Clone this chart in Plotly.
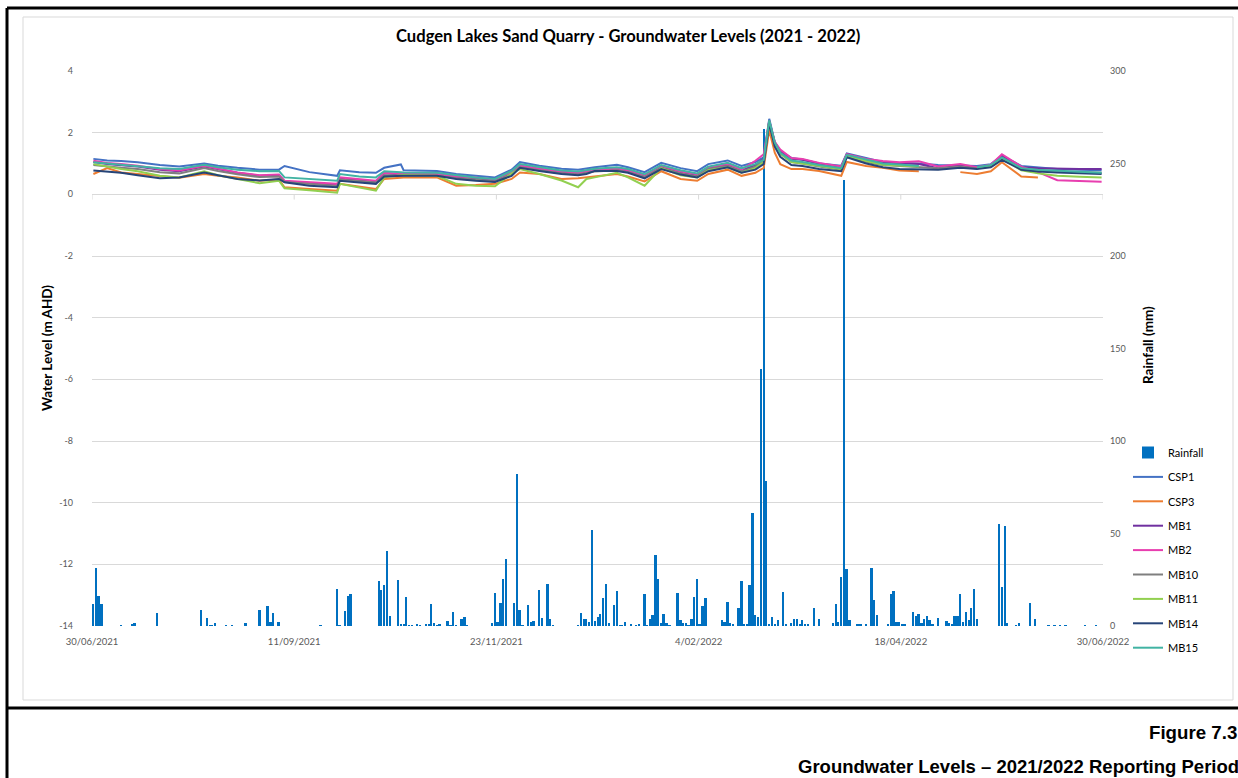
import pandas as pd
import plotly.graph_objects as go

W, H = 1238, 778
BASE = pd.Timestamp("2021-06-30")

# ---------------- data ----------------
tick_dates = ["2021-06-30", "2021-09-11", "2021-11-23", "2022-02-04", "2022-04-18", "2022-06-30"]
tick_labels = ["30/06/2021", "11/09/2021", "23/11/2021", "4/02/2022", "18/04/2022", "30/06/2022"]
level_ticks = [-14, -12, -10, -8, -6, -4, -2, 0, 2, 4]
level_labels = ["-14", "-12", "-10", "-8", "-6", "-4", "-2", "0", "2", "4"]

rain_day = [0, 1, 2, 3, 10, 14, 15, 23, 39, 41, 42, 43, 44, 48, 50, 55, 60, 63, 64, 65, 67,
            82, 88, 89, 91, 92, 93, 103, 104, 105, 106, 107, 110, 111, 112, 113, 114, 115, 117, 118,
            120, 121, 122, 123, 124, 125, 128, 129, 130, 131, 133, 134, 135, 144, 145, 146, 147, 148,
            149, 152, 153, 154, 155, 157, 158, 159, 161, 162, 164, 165, 166, 175, 176, 177, 178, 179,
            180, 181, 182, 183, 184, 185, 186, 188, 189, 190, 191, 192, 194, 196, 197, 199, 200, 201,
            202, 203, 204, 205, 206, 207, 208, 211, 212, 213, 214, 215, 216, 217, 218, 219, 220, 221,
            227, 228, 229, 230, 231, 233, 234, 235, 236, 237, 238, 239, 240, 241, 242, 243, 244, 245,
            246, 247, 249, 250, 252, 253, 254, 255, 256, 257, 258, 260, 262, 267, 268, 269, 270, 271,
            272, 273, 276, 277, 279, 281, 282, 283, 287, 288, 289, 290, 291, 292, 293, 296, 297, 298,
            299, 300, 301, 302, 303, 305, 308, 309, 310, 311, 312, 313, 314, 315, 316, 317, 318, 319,
            327, 328, 329, 330, 333, 334, 338, 340, 345, 347, 349, 351, 358, 362]
rain_mm = [11.9, 31.2, 16.2, 12.1, 0.5, 1.0, 1.6, 7.2, 8.6, 4.1, 0.5, 0.5, 1.6, 0.5, 0.5, 1.4, 8.6, 10.6, 2.2, 7.0, 2.3,
           0.5, 20.0, 0.5, 8.3, 16.4, 17.3, 24.3, 19.3, 22.2, 40.7, 5.2, 24.7, 1.0, 1.0, 15.7, 0.5, 0.5, 1.2, 0.5,
           1.0, 1.0, 11.9, 1.6, 0.5, 1.2, 2.9, 0.5, 7.4, 0.5, 4.0, 4.7, 0.5, 1.4, 17.7, 2.2, 12.6, 25.2,
           36.0, 12.4, 82.0, 8.6, 0.5, 11.5, 2.0, 2.9, 19.3, 4.3, 22.7, 3.8, 0.5, 0.5, 7.2, 4.0, 4.0, 2.2,
           52.0, 2.9, 5.0, 6.3, 15.0, 22.7, 1.4, 11.5, 18.7, 0.5, 0.5, 2.2, 1.2, 0.5, 1.0, 17.1, 0.5, 3.6,
           5.8, 38.4, 25.6, 1.6, 6.3, 1.6, 0.5, 17.8, 3.2, 1.6, 1.4, 0.5, 3.6, 15.7, 25.4, 1.0, 10.7, 14.9,
           3.1, 2.4, 13.2, 1.5, 0.7, 9.9, 24.2, 0.7, 0.7, 22.0, 61.0, 6.1, 5.1, 139.0, 268.8, 78.6, 0.7, 5.1,
           0.7, 3.1, 18.2, 0.7, 1.8, 3.7, 3.7, 1.1, 3.1, 0.7, 0.7, 9.9, 3.7, 1.5, 11.9, 2.4, 26.5, 241.0,
           31.0, 3.1, 0.7, 0.7, 0.7, 31.6, 14.3, 5.9, 0.7, 17.1, 19.1, 2.4, 2.0, 1.1, 0.7, 7.8, 5.2, 6.7,
           1.4, 3.8, 5.2, 3.1, 1.1, 4.2, 2.9, 1.4, 1.1, 5.6, 5.2, 17.1, 2.2, 7.6, 3.1, 9.6, 19.9, 3.6,
           54.9, 21.1, 54.2, 1.4, 0.5, 1.4, 12.5, 3.8, 0.5, 0.5, 0.5, 0.5, 0.5, 0.5]

gw_day = [0, 5, 10, 16, 24, 31, 40, 45, 52, 60, 67, 69, 78, 88, 89, 96, 102, 105, 111, 112,
          124, 131, 138, 145, 151, 154, 161, 169, 175, 178, 181, 189, 193, 199, 205, 212, 218, 222,
          229, 234, 239, 242, 244, 246, 248, 252, 256, 262, 270, 272, 279, 285, 291, 298, 305, 313,
          319, 324, 328, 335, 341, 348, 356, 364]

csp1 = [1.15, 1.10, 1.08, 1.04, 0.95, 0.90, 1.00, 0.93, 0.86, 0.80, 0.80, 0.92, 0.72, 0.60, 0.78, 0.72, 0.70, 0.86, 0.97, 0.78,
        0.76, 0.66, 0.60, 0.55, 0.80, 1.05, 0.93, 0.83, 0.80, 0.85, 0.88, 0.96, 0.88, 0.72, 1.02, 0.85, 0.75, 0.98,
        1.10, 0.92, 1.05, 1.20, 2.45, 1.70, 1.40, 1.18, 1.13, 1.00, 0.93, 1.33, 1.17, 1.05, 1.02, 1.00, 0.95, 0.92,
        0.92, 0.98, 1.25, 0.92, 0.88, 0.82, 0.80, 0.78]
csp3 = [0.66, 0.85, 0.71, 0.66, 0.58, 0.54, 0.66, 0.60, 0.55, 0.44, 0.48, 0.23, 0.17, 0.12, 0.34, 0.25, 0.17, 0.50, 0.55, 0.55,
        0.55, 0.28, 0.30, 0.34, 0.50, 0.71, 0.66, 0.50, 0.52, 0.55, 0.60, 0.66, 0.58, 0.42, 0.75, 0.50, 0.44, 0.66,
        0.80, 0.60, 0.70, 0.86, 2.09, 1.35, 0.98, 0.82, 0.82, 0.76, 0.60, 1.05, 0.92, 0.86, 0.77, 0.75, None, 0.72,
        0.66, 0.75, 1.04, 0.58, 0.55, None, None, None]
mb1 = [1.05, 0.98, 0.94, 0.90, 0.80, 0.75, 0.90, 0.82, 0.70, 0.60, 0.62, 0.42, 0.37, 0.30, 0.52, 0.45, 0.42, 0.68, 0.64, 0.64,
       0.64, 0.56, 0.52, 0.45, 0.70, 0.92, 0.82, 0.72, 0.68, 0.72, 0.78, 0.82, 0.76, 0.60, 0.90, 0.72, 0.62, 0.86,
       0.96, 0.78, 0.95, 1.15, 2.38, 1.68, 1.40, 1.15, 1.12, 1.00, 0.88, 1.30, 1.12, 1.03, 1.00, 0.98, 0.85, 0.93,
       0.86, 0.94, 1.25, 0.88, 0.85, 0.83, 0.82, 0.82]
mb2 = [1.09, 1.02, 0.98, 0.93, 0.82, 0.77, 0.93, 0.84, 0.71, 0.62, 0.64, 0.44, 0.39, 0.34, 0.55, 0.48, 0.44, 0.70, 0.66, 0.66,
       0.66, 0.58, 0.55, 0.48, 0.72, 0.93, 0.83, 0.74, 0.70, 0.74, 0.80, 0.84, 0.78, 0.62, 0.92, 0.74, 0.65, 0.88,
       0.98, 0.80, 1.09, 1.30, 2.38, 1.70, 1.45, 1.18, 1.15, 1.02, 0.90, 1.30, 1.15, 1.08, 1.04, 1.07, 0.90, 0.98,
       0.88, 0.96, 1.30, 0.90, 0.72, 0.46, 0.44, 0.41]
mb10 = [0.95, 0.90, 0.86, 0.82, 0.72, 0.68, 0.85, 0.76, 0.65, 0.56, 0.58, 0.40, 0.34, 0.27, 0.48, 0.42, 0.38, 0.62, 0.60, 0.60,
        0.60, 0.52, 0.48, 0.42, 0.66, 0.88, 0.78, 0.68, 0.64, 0.68, 0.74, 0.78, 0.72, 0.56, 0.86, 0.68, 0.58, 0.82,
        0.92, 0.74, 0.90, 1.08, 2.35, 1.62, 1.32, 1.05, 1.00, 0.90, 0.80, 1.24, 1.05, 0.95, 0.92, 0.90, 0.85, 0.90,
        0.84, 0.92, 1.18, 0.84, 0.78, 0.74, 0.72, 0.70]
mb11 = [0.98, 0.90, 0.82, 0.75, 0.60, 0.55, 0.75, 0.62, 0.50, 0.36, 0.44, 0.20, 0.13, 0.05, 0.34, 0.22, 0.12, 0.55, 0.63, 0.63,
        0.60, 0.34, 0.28, 0.26, 0.68, 0.82, 0.66, 0.45, 0.23, 0.50, 0.55, 0.70, 0.55, 0.28, 0.85, 0.62, 0.55, 0.78,
        0.88, 0.70, 0.85, 1.05, 2.35, 1.62, 1.32, 1.05, 1.00, 0.92, 0.82, 1.25, 1.08, 0.96, 0.93, 0.90, None, None,
        0.86, 0.92, 1.15, 0.78, 0.68, 0.60, 0.57, 0.55]
mb14 = [0.77, 0.74, 0.70, 0.62, 0.52, 0.55, 0.71, 0.62, 0.50, 0.45, 0.50, 0.39, 0.28, 0.23, 0.44, 0.38, 0.34, 0.58, 0.60, 0.60,
        0.60, 0.50, 0.44, 0.40, 0.60, 0.86, 0.76, 0.66, 0.62, 0.66, 0.76, 0.76, 0.70, 0.52, 0.82, 0.64, 0.55, 0.75,
        0.88, 0.70, 0.80, 0.98, 2.30, 1.55, 1.22, 0.95, 0.92, 0.82, 0.75, 1.20, 1.00, 0.88, 0.82, 0.82, 0.80, 0.86,
        0.82, 0.88, 1.12, 0.80, 0.74, 0.71, 0.68, 0.66]
mb15 = [1.04, 1.00, 0.95, 0.92, 0.85, 0.82, 0.96, 0.88, 0.80, 0.75, 0.76, 0.55, 0.50, 0.44, 0.66, 0.58, 0.55, 0.75, 0.72, 0.71,
        0.70, 0.62, 0.55, 0.50, 0.76, 0.98, 0.88, 0.77, 0.74, 0.78, 0.83, 0.88, 0.82, 0.65, 0.95, 0.78, 0.68, 0.90,
        1.02, 0.85, 0.98, 1.12, 2.40, 1.68, 1.35, 1.10, 1.05, 0.95, 0.85, 1.28, 1.12, 1.00, 0.97, 0.92, None, None,
        0.88, 0.95, 1.20, 0.85, 0.80, 0.76, 0.73, 0.70]

series_names = ["CSP1", "CSP3", "MB1", "MB2", "MB10", "MB11", "MB14", "MB15"]
series_vals = [csp1, csp3, mb1, mb2, mb10, mb11, mb14, mb15]
series_colors = ["#4472C4", "#ED7D31", "#7030A0", "#E83EAF", "#7F7F7F", "#92D050", "#264478", "#41B3A3"]

# ---------------- helpers (layout positions in pixels) ----------------
def px(x):
    return x / W


def py(y):
    return 1 - y / H


DAY_MS = 86400000
rain_dates = [BASE + pd.Timedelta(days=d) for d in rain_day]
gw_dates = [BASE + pd.Timedelta(days=d) for d in gw_day]

FONT = "Lato"
GRID = "#D9D9D9"
TICKC = "#595959"

fig = go.Figure()
fig.add_trace(go.Bar(
    x=rain_dates, y=rain_mm, name="Rainfall", yaxis="y",
    xperiod=DAY_MS, xperiodalignment="middle", width=0.72 * DAY_MS,
    marker=dict(color="#0070C0", line=dict(width=0)),
    legendgroup="rain",
))
for name, vals, col in zip(series_names, series_vals, series_colors):
    fig.add_trace(go.Scatter(
        x=gw_dates, y=vals, name=name, yaxis="y2", mode="lines",
        xperiod=DAY_MS, xperiodalignment="middle",
        line=dict(color=col, width=2), connectgaps=False,
        legendgroup=name,
    ))

shapes = []
# chart area border
shapes.append(dict(type="rect", xref="paper", yref="paper", x0=px(23), x1=px(1233), y0=py(17), y1=py(700),
                   line=dict(color=GRID, width=1), layer="below"))
# page frame lines
for (x0, y0, x1, y1) in [(7, 8, 1245, 8), (7, 8, 7, 790), (7, 708, 1245, 708)]:
    shapes.append(dict(type="line", xref="paper", yref="paper", x0=px(x0), y0=py(y0), x1=px(x1), y1=py(y1),
                       line=dict(color="black", width=3)))
# tick marks on the horizontal axis at zero
for td in tick_dates:
    shapes.append(dict(type="line", xref="x", yref="y2", x0=td, x1=td, y0=0, y1=-0.17,
                       line=dict(color=GRID, width=1), layer="below"))

annotations = [
    dict(text="<b>Cudgen Lakes Sand Quarry - Groundwater Levels (2021 - 2022)</b>", xref="paper", yref="paper",
         x=px(628), y=py(36), xanchor="center", yanchor="middle", showarrow=False,
         font=dict(family=FONT, size=16.6, color="black")),
    dict(text="<b>Water Level (m AHD)</b>", xref="paper", yref="paper", x=px(47), y=py(348),
         xanchor="center", yanchor="middle", textangle=-90, showarrow=False,
         font=dict(family=FONT, size=13.5, color="black")),
    dict(text="<b>Rainfall (mm)</b>", xref="paper", yref="paper", x=px(1148), y=py(345),
         xanchor="center", yanchor="middle", textangle=-90, showarrow=False,
         font=dict(family=FONT, size=13.5, color="black")),
    dict(text="<b>Figure 7.3</b>", xref="paper", yref="paper", x=px(1239), y=py(732),
         xanchor="right", yanchor="middle", showarrow=False,
         font=dict(family="Liberation Sans", size=18.7, color="black")),
    dict(text="<b>Groundwater Levels \u2013 2021/2022 Reporting Period</b>", xref="paper", yref="paper",
         x=px(1241), y=py(766), xanchor="right", yanchor="middle", showarrow=False,
         font=dict(family="Liberation Sans", size=18.5, color="black")),
]

fig.update_layout(
    width=W, height=H,
    margin=dict(l=0, r=0, t=0, b=0, autoexpand=False),
    paper_bgcolor="white", plot_bgcolor="white",
    font=dict(family=FONT, size=9, color=TICKC),
    bargap=0,
    xaxis=dict(
        type="date", domain=[px(92), px(1103)], range=[tick_dates[0], tick_dates[-1]],
        tickvals=tick_dates, ticktext=tick_labels, showgrid=False, zeroline=False,
        showline=False, ticks="", tickfont=dict(family=FONT, size=9.5, color=TICKC), anchor="y",
        ticklabelstandoff=8,
    ),
    yaxis=dict(
        domain=[py(626), py(71)], range=[0, 300], dtick=50, side="right", showgrid=False,
        zeroline=False, showline=False, ticks="", tickfont=dict(family=FONT, size=9, color=TICKC),
        ticklabelstandoff=6, anchor="x",
    ),
    yaxis2=dict(
        overlaying="y", side="left", range=[-14, 4], tickvals=level_ticks, ticktext=level_labels,
        showgrid=True, gridcolor=GRID, gridwidth=1,
        zeroline=True, zerolinecolor=GRID, zerolinewidth=1, showline=False, ticks="",
        tickfont=dict(family=FONT, size=9, color=TICKC), ticklabelstandoff=18, anchor="x",
    ),
    legend=dict(
        x=px(1128), y=py(438), xanchor="left", yanchor="top", bgcolor="rgba(0,0,0,0)",
        font=dict(family=FONT, size=11, color="black"), tracegroupgap=5.4, itemwidth=30,
    ),
    showlegend=True,
    shapes=shapes,
    annotations=annotations,
)

fig.write_html("out.html")
